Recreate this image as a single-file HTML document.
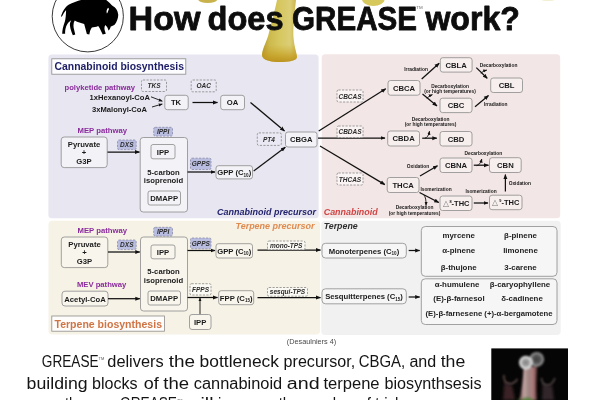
<!DOCTYPE html>
<html>
<head>
<meta charset="utf-8">
<title>How does GREASE work?</title>
<style>
html,body{margin:0;padding:0;background:#fff;}
body{width:600px;height:400px;overflow:hidden;position:relative;font-family:"Liberation Sans",sans-serif;}
svg{position:absolute;left:0;top:0;display:block;will-change:transform;}
text{font-family:"Liberation Sans",sans-serif;}
.b{font-weight:bold;fill:#1a1a1a;font-size:7.7px;text-anchor:middle;}
.bl{font-weight:bold;fill:#1a1a1a;font-size:7.7px;}
.box{fill:#f3f2f6;stroke:#8c8c8c;stroke-width:0.8;}
.boxp{fill:#f7eeee;stroke:#8c8c8c;stroke-width:0.8;}
.boxt{fill:#f8f5ec;stroke:#8c8c8c;stroke-width:0.8;}
.boxg{fill:#f6f6f6;stroke:#8c8c8c;stroke-width:0.8;}
.dash{fill:#eae9f3;stroke:#808080;stroke-width:0.75;stroke-dasharray:2.2 1.3;}
.dashb{fill:#b9bde0;stroke:#8585a6;stroke-width:0.75;stroke-dasharray:2.2 1.3;}
.enz{font-weight:bold;font-style:italic;fill:#2c2c2c;font-size:6.5px;text-anchor:middle;}
.sm{font-weight:bold;fill:#181818;font-size:4.85px;text-anchor:middle;}
.pw{font-weight:bold;fill:#8a2b9c;font-size:8px;}
.ar{stroke:#111;stroke-width:1.25;fill:none;marker-end:url(#ah);}
.ar2{stroke:#111;stroke-width:0.9;fill:none;marker-end:url(#ahs);}
.lst{font-weight:bold;fill:#222;font-size:7.9px;text-anchor:middle;}
</style>
</head>
<body>
<svg width="600" height="400" viewBox="0 0 600 400">
<defs>
<marker id="ah" viewBox="0 0 10 10" refX="9" refY="5" markerWidth="5" markerHeight="5" orient="auto-start-reverse" markerUnits="userSpaceOnUse"><path d="M0,1 L10,5 L0,9 z" fill="#111"/></marker>
<marker id="ahs" viewBox="0 0 10 10" refX="9" refY="5" markerWidth="4" markerHeight="4" orient="auto-start-reverse" markerUnits="userSpaceOnUse"><path d="M0,1 L10,5 L0,9 z" fill="#111"/></marker>
<linearGradient id="honey" x1="0" y1="0" x2="1" y2="0">
<stop offset="0" stop-color="#b6972b"/><stop offset="0.2" stop-color="#cdb94c"/><stop offset="0.5" stop-color="#d6c75f"/><stop offset="0.8" stop-color="#dbce76"/><stop offset="1" stop-color="#c9b34a"/>
</linearGradient>
<linearGradient id="honeyv" x1="0" y1="0" x2="0" y2="1">
<stop offset="0" stop-color="#c9a227" stop-opacity="0"/><stop offset="0.72" stop-color="#c9a227" stop-opacity="0"/><stop offset="0.9" stop-color="#c39a1e" stop-opacity="0.7"/><stop offset="1" stop-color="#b88d18" stop-opacity="0.9"/>
</linearGradient>
</defs>

<!-- PANELS -->
<rect x="48.4" y="54.5" width="270.2" height="163.7" rx="3.5" fill="#e7e6f1"/>
<rect x="321.7" y="54.3" width="238.5" height="163.9" rx="3.5" fill="#f3e6e6"/>
<rect x="48.5" y="220.7" width="271.6" height="113.8" rx="4" fill="#f6f2e5"/>
<rect x="321.3" y="220.7" width="239.4" height="114.3" rx="4" fill="#f1f1f1"/>

<!-- HONEY -->
<path d="M277,0 L296,0 C294.5,14 293,28 293.4,36 C294,46 296.5,52 297,57 C297,61 288,62 280,62 C271,62 262.5,60.5 262,55 C262.5,48 266.5,42 268.4,35 C271,24 275,10 277,0 Z" fill="url(#honey)"/>
<path d="M277,0 L296,0 C294.5,14 293,28 293.4,36 C294,46 296.5,52 297,57 C297,61 288,62 280,62 C271,62 262.5,60.5 262,55 C262.5,48 266.5,42 268.4,35 C271,24 275,10 277,0 Z" fill="url(#honeyv)"/>
<ellipse cx="207.7" cy="-0.3" rx="9.5" ry="3.2" fill="#c9b24c"/>
<ellipse cx="373.3" cy="-0.5" rx="11.3" ry="6.4" fill="#d6c85c"/>
<ellipse cx="548" cy="0" rx="6" ry="1" fill="#f3efd2"/>

<!-- LOGO -->
<circle cx="87.8" cy="16.3" r="35.6" fill="#fff" stroke="#222" stroke-width="0.9"/>
<g transform="translate(48,0) scale(0.135)">
<path d="M96,121 C103,100 111,78 130,55 C140,40 165,25 200,14 C225,6 245,0 260,-5 L425,-5 C445,10 465,30 480,45 C500,55 515,75 520,105 C522,130 510,160 495,182 C485,192 472,194 465,196 C462,210 455,222 448,226 C445,212 440,200 425,185 C418,195 416,210 420,225 L428,250 L405,256 C398,240 388,215 372,192 C355,200 340,200 325,203 C315,215 310,235 306,256 L288,252 C282,230 275,205 268,178 C245,172 220,165 198,152 C188,170 186,190 192,215 L202,256 L184,262 C175,240 165,215 162,185 C162,170 168,158 172,150 C155,160 142,175 135,195 C128,215 126,235 127,250 L105,250 C106,225 112,195 125,160 C131,140 133,110 134,74 C123,86 112,106 102,125 Z" fill="#000"/>
<path d="M446,58 C436,66 430,85 436,100 C442,98 444,80 452,66 Z" fill="#fff"/>
</g>

<!-- TITLE -->
<g font-size="33" font-weight="bold" fill="#0d0d0d" stroke="#0d0d0d" stroke-width="0.8" stroke-linejoin="round">
<text x="128.6" y="30" textLength="72" lengthAdjust="spacingAndGlyphs">How</text>
<text x="207.5" y="30" textLength="76" lengthAdjust="spacingAndGlyphs">does</text>
<text x="292" y="30" textLength="125" lengthAdjust="spacingAndGlyphs">GREASE</text>
<text x="425.4" y="30" textLength="94.4" lengthAdjust="spacingAndGlyphs">work?</text>
</g>
<text x="416.3" y="9.3" font-size="4" fill="#666" textLength="6.4" lengthAdjust="spacingAndGlyphs">TM</text>

<!-- DIAGRAM -->
<g id="diagram">
<!-- === LEFT TOP: cannabinoid biosynthesis === -->
<rect x="51.8" y="58.8" width="134" height="15.4" fill="#fdfdff" stroke="#8c8c8c" stroke-width="0.8"/>
<text x="54.5" y="70.3" font-size="10.2" font-weight="bold" fill="#1c1c66" textLength="129.5" lengthAdjust="spacingAndGlyphs">Cannabinoid biosynthesis</text>

<text class="pw" x="64.5" y="89.5" textLength="70.5" lengthAdjust="spacingAndGlyphs">polyketide pathway</text>
<rect class="dash" x="141.5" y="80" width="25" height="11.5" rx="1.5"/>
<text class="enz" x="154" y="88">TKS</text>
<text class="bl" x="89.5" y="99.5" textLength="60.5" lengthAdjust="spacingAndGlyphs">1xHexanoyl-CoA</text>
<text class="bl" x="92" y="111.5" textLength="55" lengthAdjust="spacingAndGlyphs">3xMalonyl-CoA</text>
<path class="ar2" d="M151,96.8 L162.3,101.2"/>
<path class="ar2" d="M152,107 L162.3,104"/>
<rect class="box" x="164.8" y="95.3" width="23.4" height="14.4" rx="2.5"/>
<text class="b" x="176" y="105.3">TK</text>
<rect class="dash" x="191.2" y="80" width="25" height="11.8" rx="1.5"/>
<text class="enz" x="203.7" y="88.2">OAC</text>
<path class="ar" d="M192.5,102.5 L217.5,102.5"/>
<rect class="box" x="220.7" y="95.3" width="23.8" height="14.4" rx="2.5"/>
<text class="b" x="232.6" y="105.3">OA</text>
<path class="ar" d="M250.5,102.5 L284.5,131"/>

<text class="pw" x="77.5" y="133.3" textLength="49.5" lengthAdjust="spacingAndGlyphs">MEP pathway</text>
<rect class="box" x="61.2" y="137" width="46" height="30.6" rx="3"/>
<text class="b" x="84" y="146.8">Pyruvate</text>
<text class="b" x="84" y="155.3">+</text>
<text class="b" x="84" y="164">G3P</text>
<rect class="dashb" x="117.5" y="140" width="18.7" height="9.6" rx="1.5"/>
<text class="enz" x="126.8" y="147.2">DXS</text>
<path class="ar" d="M107.5,152 L139.5,152"/>
<rect class="box" x="140.2" y="137.5" width="47.3" height="74.5" rx="3"/>
<rect class="dashb" x="153.7" y="127.3" width="18.8" height="8.8" rx="1.5"/>
<text class="enz" x="163.1" y="134">IPPI</text>
<rect class="box" x="151" y="144.5" width="24" height="14.3" rx="2"/>
<text class="b" x="163" y="154.5">IPP</text>
<text class="b" x="163.5" y="174.5">5-carbon</text>
<text class="b" x="163.5" y="183.3">isoprenoid</text>
<rect class="box" x="148" y="191" width="32.5" height="14" rx="2"/>
<text class="b" x="164.2" y="200.8">DMAPP</text>
<rect class="dashb" x="190.5" y="158.2" width="20.5" height="11.3" rx="1.5"/>
<text class="enz" x="200.8" y="166">GPPS</text>
<path class="ar" d="M187.5,172 L215,172"/>
<rect class="box" x="216" y="165.7" width="36.5" height="13.2" rx="2.5"/>
<text class="b" x="234.2" y="175">GPP (C<tspan font-size="4.6" dy="1.6">10</tspan><tspan dy="-1.6">)</tspan></text>
<path class="ar" d="M253.7,171 L285.3,147.3"/>
<rect class="dash" x="257.3" y="132.9" width="24" height="12.5" rx="1.5"/>
<text class="enz" x="269" y="141.8">PT4</text>
<rect class="box" x="285.5" y="132" width="31.5" height="15" rx="2.5"/>
<text class="b" x="301.3" y="142.3">CBGA</text>
<text x="217" y="215.3" font-size="9.6" font-weight="bold" font-style="italic" fill="#24246e" textLength="99" lengthAdjust="spacingAndGlyphs">Cannabinoid precursor</text>

<!-- === RIGHT TOP: cannabinoids === -->
<g id="pink">
<path class="ar" d="M318.7,131 L385.7,88.8"/>
<path class="ar" d="M318,138 L385,138"/>
<path class="ar" d="M320,146 L384.8,184.6"/>
<rect class="dash" x="337" y="90" width="26" height="12" rx="1.5" style="fill:#fbf4f4"/>
<text class="enz" x="350" y="98.5">CBCAS</text>
<rect class="dash" x="337" y="126" width="26" height="11.5" rx="1.5" style="fill:#fbf4f4"/>
<text class="enz" x="350" y="134.3">CBDAS</text>
<rect class="dash" x="337" y="173" width="26" height="12" rx="1.5" style="fill:#fbf4f4"/>
<text class="enz" x="350" y="181.5">THCAS</text>

<rect class="boxp" x="388" y="80.5" width="32" height="14.7" rx="2.5"/>
<text class="b" x="404" y="90.7">CBCA</text>
<rect class="boxp" x="387.7" y="131" width="31.8" height="15" rx="2.5"/>
<text class="b" x="403.6" y="141.3">CBDA</text>
<rect class="boxp" x="387.2" y="177.5" width="31.8" height="15" rx="2.5"/>
<text class="b" x="403.1" y="187.8">THCA</text>

<text class="sm" x="416" y="70.5">Irradiation</text>
<path class="ar" d="M421.7,79 L439.2,63.3"/>
<rect class="boxp" x="440.3" y="57.7" width="31.8" height="14.4" rx="2.5"/>
<text class="b" x="456.2" y="67.7">CBLA</text>
<text class="sm" x="498.5" y="66.8">Decarboxylation</text>
<path class="ar" d="M476.3,67.6 L487.2,78.3"/>
<path class="ar2" d="M480.8,73.3 Q483,71 486.8,70"/>
<rect class="boxp" x="490.7" y="78" width="31.8" height="14.5" rx="2.5"/>
<text class="b" x="506.6" y="88">CBL</text>
<text class="sm" x="450" y="87.5">Decarboxylation</text>
<text class="sm" x="450" y="92.7">(or high temperatures)</text>
<path class="ar" d="M422.5,94 L437,106"/>
<path class="ar2" d="M426.8,98.3 Q429,96 432.4,94.7"/>
<rect class="boxp" x="440" y="98.2" width="32" height="14.4" rx="2.5"/>
<text class="b" x="456" y="108.2">CBC</text>
<path class="ar" d="M475,106.7 L488.5,95.5"/>
<text class="sm" x="495.7" y="106.3">Irradiation</text>

<text class="sm" x="430.5" y="120.5">Decarboxylation</text>
<text class="sm" x="430.5" y="126.2">(or high temperatures)</text>
<path class="ar" d="M422.2,138.2 L436.8,138.2"/>
<path class="ar2" d="M424.8,138.2 Q428.3,137.6 429.5,131.2"/>
<rect class="boxp" x="440" y="131.5" width="32" height="14.5" rx="2.5"/>
<text class="b" x="456" y="141.5">CBD</text>

<text class="sm" x="418" y="167.5">Oxidation</text>
<path class="ar" d="M420,176 L437.5,165.8"/>
<rect class="boxp" x="440" y="158" width="32" height="14.5" rx="2.5"/>
<text class="b" x="456" y="168">CBNA</text>
<text class="sm" x="483.3" y="154.8">Decarboxylation</text>
<path class="ar" d="M473.8,165.2 L488.5,165.2"/>
<path class="ar2" d="M476.6,165.7 Q480.3,165 481.8,159"/>
<rect class="boxp" x="489.5" y="157.7" width="31.7" height="14.8" rx="2.5"/>
<text class="b" x="505.4" y="168">CBN</text>
<path class="ar" d="M505.4,191.5 L505.4,174.6"/>
<text class="sm" x="519.8" y="184.8">Oxidation</text>

<text class="sm" x="436" y="191.3">Isomerization</text>
<path class="ar" d="M419.5,192.5 L438.8,202.5"/>
<path class="ar2" d="M424,195 Q426.3,198 426,205.3"/>
<rect class="boxp" x="440" y="196" width="32" height="14.5" rx="2.5"/>
<text class="b" x="456" y="206" textLength="27" lengthAdjust="spacingAndGlyphs"><tspan font-weight="normal" fill="#777">△</tspan><tspan font-size="4" dy="-3"> 8</tspan><tspan dy="3">-THC</tspan></text>
<text class="sm" x="481" y="192.5">Isomerization</text>
<path class="ar" d="M473.8,203 L488,203"/>
<rect class="boxp" x="489.5" y="195.2" width="32.5" height="14.5" rx="2.5"/>
<text class="b" x="505.8" y="205.2" textLength="27" lengthAdjust="spacingAndGlyphs"><tspan font-weight="normal" fill="#777">△</tspan><tspan font-size="4" dy="-3"> 9</tspan><tspan dy="3">-THC</tspan></text>
<text class="sm" x="414.5" y="209.3">Decarboxylation</text>
<text class="sm" x="414.5" y="215">(or high temperatures)</text>
<text x="323.7" y="215.3" font-size="9.6" font-weight="bold" font-style="italic" fill="#cf4545" textLength="54" lengthAdjust="spacingAndGlyphs">Cannabinoid</text>
</g>

<!-- === BOTTOM: terpene biosynthesis === -->
<g id="terp">
<text x="235.5" y="229" font-size="9.6" font-weight="bold" font-style="italic" fill="#df8a4e" textLength="79" lengthAdjust="spacingAndGlyphs">Terpene precursor</text>
<text x="323.7" y="229" font-size="9.6" font-weight="bold" font-style="italic" fill="#2e2e2e" textLength="34" lengthAdjust="spacingAndGlyphs">Terpene</text>

<text class="pw" x="77.5" y="232.8" textLength="49.5" lengthAdjust="spacingAndGlyphs">MEP pathway</text>
<rect class="boxt" x="61.3" y="237" width="46.5" height="30.6" rx="3"/>
<text class="b" x="84.5" y="246.8">Pyruvate</text>
<text class="b" x="84.5" y="255.3">+</text>
<text class="b" x="84.5" y="264">G3P</text>
<rect class="dashb" x="117.5" y="240" width="18.7" height="9.6" rx="1.5"/>
<text class="enz" x="126.8" y="247.2">DXS</text>
<path class="ar" d="M108,252 L139.8,252"/>
<rect class="boxt" x="140.5" y="237" width="47" height="74" rx="3"/>
<rect class="dashb" x="153.7" y="227.3" width="18.8" height="8.8" rx="1.5"/>
<text class="enz" x="163.1" y="234">IPPI</text>
<rect class="boxt" x="151" y="245" width="24" height="13.8" rx="2"/>
<text class="b" x="163" y="254.8">IPP</text>
<text class="b" x="163.5" y="273.7">5-carbon</text>
<text class="b" x="163.5" y="282.7">isoprenoid</text>
<text class="pw" x="77" y="287.3" textLength="49.3" lengthAdjust="spacingAndGlyphs">MEV pathway</text>
<rect class="boxt" x="62" y="291.2" width="46" height="14.8" rx="3"/>
<text class="b" x="85" y="301.5">Acetyl-CoA</text>
<path class="ar" d="M108,298.7 L139.8,298.7"/>
<rect class="boxt" x="148" y="291" width="32.5" height="14" rx="2"/>
<text class="b" x="164.2" y="300.8">DMAPP</text>

<rect class="dashb" x="190.5" y="238" width="20.5" height="10.8" rx="1.5"/>
<text class="enz" x="200.8" y="245.7">GPPS</text>
<path class="ar" d="M187.5,250.5 L215,250.5"/>
<rect class="boxt" x="216" y="243.7" width="36.5" height="14.3" rx="2.5"/>
<text class="b" x="234.2" y="253.7">GPP (C<tspan font-size="4.6" dy="1.6">10</tspan><tspan dy="-1.6">)</tspan></text>
<path class="ar" d="M257.5,250 L320.5,250"/>
<rect class="dash" x="267.5" y="241" width="37.5" height="8.7" rx="1.5" style="fill:#fbf9f3"/>
<text class="enz" x="286.2" y="247.7">mono-TPS</text>

<rect class="dash" x="190" y="283.7" width="21" height="11.3" rx="1.5" style="fill:#fbf9f3"/>
<text class="enz" x="200.5" y="291.7">FPPS</text>
<path class="ar" d="M187.5,297.5 L217.5,297.5"/>
<path class="ar2" d="M200,314.5 L200,297.8"/>
<rect class="boxt" x="189.5" y="314.5" width="21.5" height="15" rx="2.5"/>
<text class="b" x="200.2" y="324.8">IPP</text>
<rect class="boxt" x="218.7" y="290.7" width="35" height="14" rx="2.5"/>
<text class="b" x="236.2" y="300.5">FPP (C<tspan font-size="4.6" dy="1.6">15</tspan><tspan dy="-1.6">)</tspan></text>
<path class="ar" d="M257.5,297.5 L320.5,297.5"/>
<rect class="dash" x="267.5" y="287.5" width="40" height="8.7" rx="1.5" style="fill:#fbf9f3"/>
<text class="enz" x="287.5" y="294.2">sesqui-TPS</text>

<rect x="51.8" y="316" width="112.7" height="15.2" fill="#fffdfb" stroke="#8c8c8c" stroke-width="0.8"/>
<text x="54.5" y="327.5" font-size="10.2" font-weight="bold" fill="#cf7445" textLength="107.5" lengthAdjust="spacingAndGlyphs">Terpene biosynthesis</text>

<rect class="boxg" x="322" y="243.3" width="84.3" height="14.7" rx="3.5"/>
<text class="b" x="364" y="253.5">Monoterpenes (C<tspan font-size="4.6" dy="1.6">10</tspan><tspan dy="-1.6">)</tspan></text>
<path class="ar" d="M408.7,250.5 L419.7,250.5"/>
<rect class="boxg" x="322" y="288.8" width="84.3" height="15" rx="3.5"/>
<text class="b" x="364" y="299.2">Sesquitterpenes (C<tspan font-size="4.6" dy="1.6">15</tspan><tspan dy="-1.6">)</tspan></text>
<path class="ar" d="M408.7,297 L419.7,297"/>

<rect class="boxg" x="421.3" y="226.5" width="135.7" height="49.8" rx="4"/>
<text class="lst" x="458.7" y="237.8">myrcene</text>
<text class="lst" x="520.5" y="237.8">β-pinene</text>
<text class="lst" x="458.7" y="253.3">α-pinene</text>
<text class="lst" x="520.5" y="253.3">limonene</text>
<text class="lst" x="458.7" y="269.7">β-thujone</text>
<text class="lst" x="520.5" y="269.7">3-carene</text>
<rect class="boxg" x="421.3" y="278.8" width="135.7" height="45.7" rx="4"/>
<text class="lst" x="457" y="286.5">α-humulene</text>
<text class="lst" x="520" y="286.5">β-caryophyllene</text>
<text class="lst" x="459" y="300.8">(E)-β-farnesol</text>
<text class="lst" x="522" y="300.8">δ-cadinene</text>
<text class="lst" x="489" y="315.8" textLength="127" lengthAdjust="spacingAndGlyphs">(E)-β-farnesene (+)-α-bergamotene</text>
</g>
</g>

<!-- BOTTOM TEXT -->
<text x="286.8" y="344" font-size="6.6" fill="#4a4a4a" textLength="49.4" lengthAdjust="spacingAndGlyphs">(Desaulniers 4)</text>
<g font-size="15.6" fill="#141414" lengthAdjust="spacingAndGlyphs">
<text x="41.8" y="367.4" textLength="56.8" lengthAdjust="spacingAndGlyphs">GREASE</text>
<text x="107.3" y="367.4" textLength="56.3" lengthAdjust="spacingAndGlyphs">delivers</text>
<text x="168.7" y="367.4" textLength="26.3" lengthAdjust="spacingAndGlyphs">the</text>
<text x="199.6" y="367.4" textLength="79.4" lengthAdjust="spacingAndGlyphs">bottleneck</text>
<text x="283.6" y="367.4" textLength="71.6" lengthAdjust="spacingAndGlyphs">precursor,</text>
<text x="358.8" y="367.4" textLength="46.4" lengthAdjust="spacingAndGlyphs">CBGA,</text>
<text x="409.4" y="367.4" textLength="26.8" lengthAdjust="spacingAndGlyphs">and</text>
<text x="440.7" y="367.4" textLength="24.6" lengthAdjust="spacingAndGlyphs">the</text>

<text x="26.6" y="388.5" textLength="61" lengthAdjust="spacingAndGlyphs">building</text>
<text x="92" y="388.5" textLength="45.6" lengthAdjust="spacingAndGlyphs">blocks</text>
<text x="143.8" y="388.5" textLength="15" lengthAdjust="spacingAndGlyphs">of</text>
<text x="163.3" y="388.5" textLength="25.8" lengthAdjust="spacingAndGlyphs">the</text>
<text x="193.8" y="388.5" textLength="88.4" lengthAdjust="spacingAndGlyphs">cannabinoid</text>
<text x="286.8" y="388.5" textLength="32.8" lengthAdjust="spacingAndGlyphs">and</text>
<text x="323.4" y="388.5" textLength="56.2" lengthAdjust="spacingAndGlyphs">terpene</text>
<text x="384.5" y="388.5" textLength="97" lengthAdjust="spacingAndGlyphs">biosynthsesis</text>

<text x="49" y="409.3" textLength="65" lengthAdjust="spacingAndGlyphs">pathways.</text>
<text x="120" y="409.3" textLength="57" lengthAdjust="spacingAndGlyphs">GREASE</text>
<text x="186.5" y="409.3" textLength="27" lengthAdjust="spacingAndGlyphs">will</text>
<text x="218" y="409.3" textLength="222" lengthAdjust="spacingAndGlyphs">increase the number of trichomes</text>
</g>
<text x="98.6" y="360.2" font-size="3.6" fill="#555" textLength="5.6" lengthAdjust="spacingAndGlyphs">TM</text>
<text x="177" y="401.6" font-size="3.6" fill="#555" textLength="5.6" lengthAdjust="spacingAndGlyphs">TM</text>

<!-- PHOTO -->
<defs>
<clipPath id="pc"><rect x="491.3" y="348.4" width="76.7" height="52"/></clipPath>
<filter id="bl1" x="-30%" y="-30%" width="160%" height="160%"><feGaussianBlur stdDeviation="0.9"/></filter>
<filter id="bl2" x="-30%" y="-30%" width="160%" height="160%"><feGaussianBlur stdDeviation="1.6"/></filter>
<radialGradient id="bulb1" cx="0.5" cy="0.5" r="0.5"><stop offset="0" stop-color="#7d7d7d"/><stop offset="0.55" stop-color="#a5a5a5"/><stop offset="0.85" stop-color="#e2e2e2"/><stop offset="1" stop-color="#cfcfcf"/></radialGradient>
<radialGradient id="bulb2" cx="0.5" cy="0.5" r="0.5"><stop offset="0" stop-color="#3c3c3c"/><stop offset="0.6" stop-color="#5a5a5a"/><stop offset="0.9" stop-color="#9a9a9a"/><stop offset="1" stop-color="#7a7a7a"/></radialGradient>
<linearGradient id="stalk" x1="0" y1="0" x2="1" y2="0"><stop offset="0" stop-color="#5e3c3c"/><stop offset="0.25" stop-color="#c3a5a2"/><stop offset="0.5" stop-color="#9c8583"/><stop offset="0.75" stop-color="#b07c7c"/><stop offset="1" stop-color="#4a2c2c"/></linearGradient>
</defs>
<rect x="491.3" y="348.4" width="76.7" height="52" fill="#060505"/>
<g clip-path="url(#pc)">
<g filter="url(#bl2)">
<path d="M505,378 C505,384 509,386 512,385 L515,400 L503,400 Z" fill="#3a2326"/>
<path d="M543,380 C544,386 548,387 552,385 L554,400 L542,400 Z" fill="#33262a"/>
<ellipse cx="527" cy="401" rx="9" ry="4" fill="#3f6a2b"/>
</g>
<g filter="url(#bl1)">
<path d="M523.5,368 L537.5,366 C536.5,378 536,388 537,400 L519.5,400 C521.5,390 523,380 523.5,368 Z" fill="url(#stalk)"/>
<path d="M504,375 C503,384 512,387 517.5,379" fill="none" stroke="#5e4c4c" stroke-width="1.6"/>
<path d="M541.5,378 C542,387 551,388 555,378" fill="none" stroke="#54484a" stroke-width="1.6"/>
<circle cx="536.7" cy="359.3" r="7.4" fill="url(#bulb2)"/>
<circle cx="525.8" cy="362.6" r="6.8" fill="url(#bulb1)"/>
<ellipse cx="527.5" cy="399.5" rx="5" ry="2.5" fill="#4f8034" opacity="0.7"/>
</g>
</g>
</svg>
</body>
</html>
